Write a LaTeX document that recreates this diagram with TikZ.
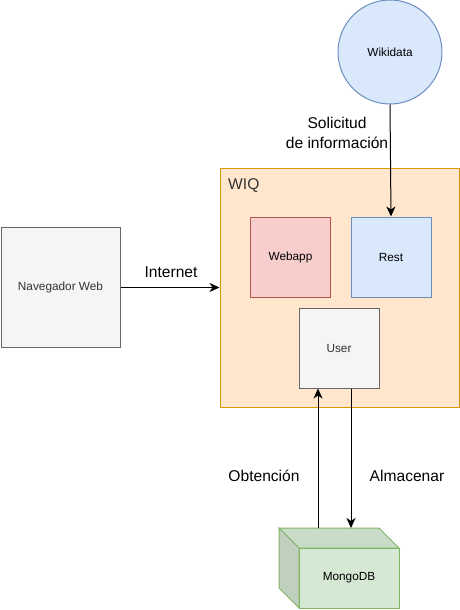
\documentclass[tikz,border=0pt]{standalone}
\usepackage{fontspec}
\setmainfont{Liberation Sans}
\usetikzlibrary{arrows.meta}
\definecolor{wiqfill}{HTML}{FFE6CC}
\definecolor{wiqline}{HTML}{D79B00}
\definecolor{redfill}{HTML}{F8CECC}
\definecolor{redline}{HTML}{B85450}
\definecolor{bluefill}{HTML}{DAE8FC}
\definecolor{blueline}{HTML}{6C8EBF}
\definecolor{grayfill}{HTML}{F5F5F5}
\definecolor{grayline}{HTML}{666666}
\definecolor{graytext}{HTML}{333333}
\definecolor{greenfill}{HTML}{D5E8D4}
\definecolor{greenline}{HTML}{82B366}
\definecolor{greentop}{HTML}{C9DCC7}
\definecolor{greenside}{HTML}{BFD1BE}

\begin{document}
\begin{tikzpicture}[x=1pt,y=-1pt,
    box/.style={draw,line width=1pt,inner sep=0pt,font=\fontsize{11.8}{14}\selectfont},
    lbl/.style={font=\fontsize{15.6}{20}\selectfont,inner sep=0pt,align=center},
    conn/.style={-{Stealth[length=10pt,width=9pt,inset=3pt]},line width=1pt}]
    \useasboundingbox (0,0) rectangle (460,610);
    % containers and components
    \node [box,fill=wiqfill,draw=wiqline,minimum width=239pt,minimum height=239pt] (wiq) at (339.5,287.5) {};
    \node [lbl,anchor=west,text=graytext] (wiqname) at (228,186) {WIQ};
    \node [box,fill=redfill,draw=redline,minimum size=80pt] (webapp) at (290.5,257) {Webapp};
    \node [box,fill=bluefill,draw=blueline,minimum size=80pt] (rest) at (391,257) {Rest};
    \node [box,fill=grayfill,draw=grayline,text=graytext,minimum size=80pt] (user) at (339,348) {User};
    \node [box,fill=grayfill,draw=grayline,text=graytext,minimum width=119pt,minimum height=120pt] (nav) at (60.5,287.5) {Navegador Web};
    \node [box,circle,fill=bluefill,draw=blueline,minimum size=104pt] (wikidata) at (390,52) {Wikidata};
    % MongoDB cube
    \begin{scope}[line width=1pt,draw=greenline]
    \path [draw,fill=greentop] (279,528) -- (379,528) -- (399,548) -- (299,548) -- cycle;
    \path [draw,fill=greenside] (279,528) -- (299,548) -- (299,608) -- (279,588) -- cycle;
    \end{scope}
    \node [box,fill=greenfill,draw=greenline,minimum width=100pt,minimum height=60pt] (mongo) at (349,578) {MongoDB};
    \coordinate (obtfoot) at (318,528);
    \coordinate (almfoot) at (351,528);
    % connectors
    \draw [conn] (wikidata.south) -- (rest.north);
    \draw [conn] (nav.east) -- (wiq.west);
    \draw [conn] (obtfoot) -- (obtfoot |- user.south);
    \draw [conn] (user.south -| almfoot) -- (almfoot);
    % labels
    \node [lbl] (solicitud) at (337,133) {Solicitud\\de información};
    \node [lbl] (internet) at (171,272) {Internet};
    \node [lbl] (obtencion) at (264,476) {Obtención};
    \node [lbl] (almacenar) at (407,476) {Almacenar};
\end{tikzpicture}
\end{document}
